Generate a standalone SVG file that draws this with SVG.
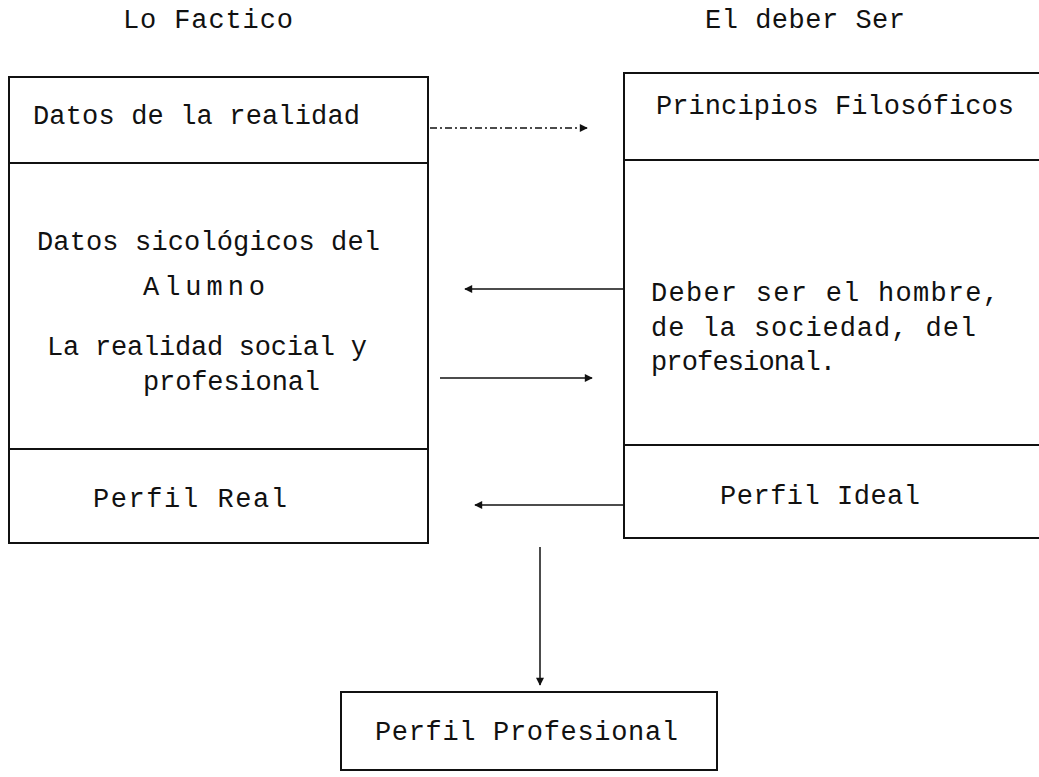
<svg xmlns="http://www.w3.org/2000/svg" width="1039" height="777" viewBox="0 0 1039 777">
  <style>
    .t { font-family: "Liberation Mono", "Courier New", monospace; font-size: 27px; fill: #111; }
    .box { fill: none; stroke: #111; stroke-width: 2; }
    .c { fill: none; stroke: #111; stroke-width: 1.5; }
    .dash { stroke-dasharray: 7 3 2 3; }
  </style>
  <defs>
    <marker id="arr" viewBox="0 0 10 10" refX="9" refY="5" markerWidth="10" markerHeight="8" markerUnits="userSpaceOnUse" orient="auto">
      <path d="M0,0 L10,5 L0,10 z" fill="#111"/>
    </marker>
  </defs>
  <rect width="1039" height="777" fill="#fff"/>

  <g id="title-factico">
    <text class="t" x="123" y="28" textLength="170" lengthAdjust="spacing">Lo Factico</text>
  </g>
  <g id="title-deber">
    <text class="t" x="705" y="28" textLength="200" lengthAdjust="spacing">El deber Ser</text>
  </g>

  <g id="node-factico">
    <rect class="box" x="9" y="77" width="419" height="466"/>
    <line class="box" x1="9" y1="163" x2="428" y2="163"/>
    <line class="box" x1="9" y1="449" x2="428" y2="449"/>
    <text class="t" x="33" y="124" textLength="327" lengthAdjust="spacing">Datos de la realidad</text>
    <text class="t" x="37" y="250" textLength="343" lengthAdjust="spacing">Datos sicológicos del</text>
    <text class="t" x="143" y="295" textLength="122" lengthAdjust="spacing">Alumno</text>
    <text class="t" x="47" y="355" textLength="320" lengthAdjust="spacing">La realidad social y</text>
    <text class="t" x="143" y="390" textLength="177" lengthAdjust="spacing">profesional</text>
    <text class="t" x="93" y="507" textLength="194" lengthAdjust="spacing">Perfil Real</text>
  </g>

  <g id="node-deber">
    <path class="box" d="M1045,73 H624 V538 H1045"/>
    <line class="box" x1="624" y1="160" x2="1045" y2="160"/>
    <line class="box" x1="624" y1="445" x2="1045" y2="445"/>
    <text class="t" x="656" y="114" textLength="358" lengthAdjust="spacing">Principios Filosóficos</text>
    <text class="t" x="651" y="301" textLength="348" lengthAdjust="spacing">Deber ser el hombre,</text>
    <text class="t" x="651" y="336" textLength="325" lengthAdjust="spacing">de la sociedad, del</text>
    <text class="t" x="651" y="370" textLength="185" lengthAdjust="spacing">profesional.</text>
    <text class="t" x="720" y="504" textLength="200" lengthAdjust="spacing">Perfil Ideal</text>
  </g>

  <g id="node-perfil-profesional">
    <rect class="box" x="341" y="692" width="376" height="78"/>
    <text class="t" x="375" y="740" textLength="303" lengthAdjust="spacing">Perfil Profesional</text>
  </g>

  <g id="connectors">
    <line class="c dash" x1="430" y1="128" x2="587" y2="128" marker-end="url(#arr)"/>
    <line class="c" x1="623" y1="289" x2="465" y2="289" marker-end="url(#arr)"/>
    <line class="c" x1="440" y1="378" x2="592" y2="378" marker-end="url(#arr)"/>
    <line class="c" x1="623" y1="505" x2="475" y2="505" marker-end="url(#arr)"/>
    <line class="c" x1="540" y1="547" x2="540" y2="685" marker-end="url(#arr)"/>
  </g>
</svg>
